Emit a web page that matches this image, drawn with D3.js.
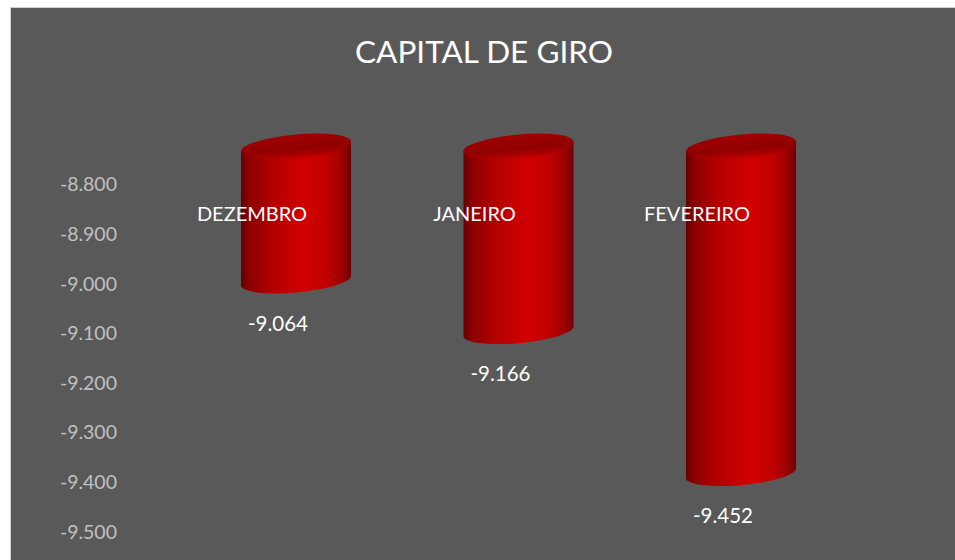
<!DOCTYPE html>
<html>
<head>
<meta charset="utf-8">
<script src="https://cdn.jsdelivr.net/npm/d3@7"></script>
<style>
  body { margin: 0; background: #ffffff; }
  text { font-family: Lato, "Open Sans", sans-serif; }
</style>
</head>
<body>
<div id="chart"></div>
<script>
// data
var categories = ["DEZEMBRO", "JANEIRO", "FEVEREIRO"];
var values = [-9064, -9166, -9452];
var tickValues = [-8800, -8900, -9000, -9100, -9200, -9300, -9400, -9500];
var title = "CAPITAL DE GIRO";

var svgWidth = 955;
var svgHeight = 560;

// pt-BR number format: "." as thousands separator
var ptBR = d3.formatLocale({
  decimal: ",",
  thousands: ".",
  grouping: [3],
  currency: ["R$", ""],
  minus: "-"
});
var fmt = ptBR.format(",");

var svg = d3.select("#chart")
  .append("svg")
  .attr("width", svgWidth)
  .attr("height", svgHeight);

// chart area background
svg.append("rect")
  .attr("x", 10.5)
  .attr("y", 7.5)
  .attr("width", svgWidth)
  .attr("height", svgHeight)
  .attr("fill", "#595959")
  .attr("stroke", "#d0d0d0")
  .attr("stroke-width", 1);

svg.append("text")
  .attr("x", 484)
  .attr("y", 63)
  .attr("text-anchor", "middle")
  .attr("fill", "#ffffff")
  .style("font-size", "31.5px")
  .text(title);

// gradients
var defs = svg.append("defs");
var bodyGrad = defs.append("linearGradient")
  .attr("id", "bodyGrad")
  .attr("x1", "0").attr("y1", "0").attr("x2", "1").attr("y2", "0");
[[0, "#660000"], [0.08, "#8e0000"], [0.3, "#b40000"], [0.58, "#d20000"],
 [0.78, "#c00000"], [0.93, "#980000"], [1, "#6c0000"]].forEach(function(s) {
  bodyGrad.append("stop").attr("offset", s[0]).attr("stop-color", s[1]);
});
var topGrad = defs.append("linearGradient")
  .attr("id", "topGrad")
  .attr("x1", "0").attr("y1", "0").attr("x2", "0").attr("y2", "1");
[[0, "#a00000"], [0.6, "#900000"], [0.85, "#a80000"], [1, "#c40000"]].forEach(function(s) {
  topGrad.append("stop").attr("offset", s[0]).attr("stop-color", s[1]);
});

// scales
var y = d3.scaleLinear()
  .domain([-9500, -8800])
  .range([532, 184.5]);

var x = d3.scalePoint()
  .domain(categories)
  .range([296, 741]);

// y axis (labels only)
var yAxis = d3.axisLeft(y)
  .tickValues(tickValues)
  .tickFormat(fmt)
  .tickSize(0)
  .tickPadding(0);

var axisG = svg.append("g")
  .attr("transform", "translate(117,0)")
  .call(yAxis);
axisG.select(".domain").remove();
axisG.selectAll("text")
  .attr("fill", "#c0c0c0")
  .style("font-size", "19.5px")
  .style("font-family", "Lato, 'Open Sans', sans-serif");

// cylinders
var rx = 55;
var ry = 12;
var depth = 35;          // 3D shift of the bar ends
var topY = y(-8800) - 38; // center of top cap

var data = categories.map(function(c, i) { return { cat: c, value: values[i] }; });

var bars = svg.selectAll(".cyl")
  .data(data)
  .enter()
  .append("g")
  .attr("class", "cyl")
  .attr("transform", function(d) { return "translate(" + x(d.cat) + ",0) skewY(-5)"; });

bars.append("path")
  .attr("fill", "url(#bodyGrad)")
  .attr("d", function(d) {
    var yb = y(d.value) - depth;
    return "M" + (-rx) + "," + topY +
      " L" + (-rx) + "," + yb +
      " A" + rx + "," + ry + " 0 0 0 " + rx + "," + yb +
      " L" + rx + "," + topY + " Z";
  });

bars.append("ellipse")
  .attr("cx", 0)
  .attr("cy", topY)
  .attr("rx", rx)
  .attr("ry", ry)
  .attr("fill", "url(#topGrad)");

// category labels
svg.selectAll(".cat")
  .data(data)
  .enter()
  .append("text")
  .attr("class", "cat")
  .attr("x", function(d) { return x(d.cat) - 44; })
  .attr("y", 221)
  .attr("text-anchor", "middle")
  .attr("fill", "#ffffff")
  .style("font-size", "20px")
  .text(function(d) { return d.cat; });

// value labels
svg.selectAll(".val")
  .data(data)
  .enter()
  .append("text")
  .attr("class", "val")
  .attr("x", function(d) { return x(d.cat) - 18; })
  .attr("y", function(d) { return y(d.value) + 15; })
  .attr("text-anchor", "middle")
  .attr("fill", "#ffffff")
  .style("font-size", "20.5px")
  .text(function(d) { return fmt(d.value); });
</script>
</body>
</html>
